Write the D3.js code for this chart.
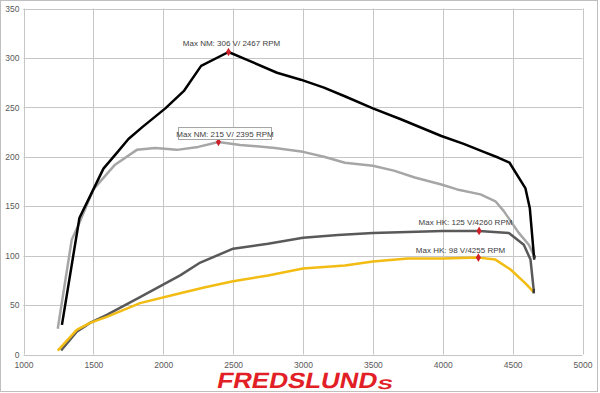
<!DOCTYPE html>
<html><head><meta charset="utf-8">
<script src="https://cdn.jsdelivr.net/npm/d3@7"></script>
<style>
html,body{margin:0;padding:0;background:#fff;}
svg{display:block;}
text{font-family:"Liberation Sans",Arial,sans-serif;}
</style></head>
<body>
<svg id="c" width="600" height="393"></svg>
<script>
// ---- data ----
const xTicks = [1000,1500,2000,2500,3000,3500,4000,4500,5000];
const yTicks = [0,50,100,150,200,250,300,350];

const nm1Rpm = [1275,1400,1500,1572,1668,1751,1850,2015,2150,2271,2467,2600,2814,2984,3150,3303,3500,3700,3990,4150,4293,4400,4478,4592,4623,4654];
const nm1Val = [30,138,167,188,204,218,230,249,267,292,306,298,285,278,270,261,249,238,221,213,205,199,194,168,148,97];

const nm2Rpm = [1245,1345,1393,1500,1655,1811,1942,2097,2250,2395,2550,2800,3000,3150,3300,3500,3650,3800,3990,4103,4270,4377,4437,4544,4616,4657];
const nm2Val = [26,116,131,167,192,207,209,207,210,215,212,209,205,200,194,191,186,179,172,167,162,155,145,123,111,99];

const hk1Rpm = [1269,1381,1476,1596,1834,2121,2265,2500,2750,3000,3250,3500,3750,4000,4260,4473,4580,4628,4651];
const hk1Val = [4,23,32,40,58,80,93,107,112,118,121,123,124,125,125,123,111,96,65];

const hk2Rpm = [1245,1381,1476,1596,1834,2121,2300,2500,2750,3000,3300,3500,3750,4000,4255,4377,4485,4592,4651];
const hk2Val = [4,25,32,38,52,62,68,74,80,87,90,94,97,97,98,96,86,72,63];

const seriesNames = ["NM2","NM1","HK1","HK2"];
const maxLabels = ["Max NM: 306 V/ 2467 RPM","Max NM: 215 V/ 2395 RPM","Max HK: 125 V/4260 RPM","Max HK: 98 V/4255 RPM"];
const maxRpm = [2467,2395,4260,4255];
const maxVal = [306,215,125,98];

// ---- chart ----
const svg = d3.select("#c");
const L=23.5, R=582.5, T=8.5, B=354.5;
const x = d3.scaleLinear().domain([1000,5000]).range([L,R]);
const y = d3.scaleLinear().domain([0,350]).range([B,T]);

// outer frame
svg.append("rect").attr("x",0.5).attr("y",0.5).attr("width",597).attr("height",391)
  .attr("fill","#fff").attr("stroke","#bfbfbf");

const grid = svg.append("g");
grid.selectAll("line.h").data(yTicks).join("line")
  .attr("x1",L).attr("x2",R).attr("y1",d=>Math.round(y(d))+0.5).attr("y2",d=>Math.round(y(d))+0.5)
  .attr("stroke","#c6c6c6").attr("stroke-width",1);
grid.selectAll("line.v").data(xTicks).join("line")
  .attr("y1",T).attr("y2",B).attr("x1",d=>Math.round(x(d))+0.5).attr("x2",d=>Math.round(x(d))+0.5)
  .attr("stroke","#c6c6c6").attr("stroke-width",1);

// axes labels via d3 axes
const xAxis = svg.append("g").attr("transform",`translate(0,${B})`)
  .call(d3.axisBottom(x).tickValues(xTicks).tickSize(0).tickPadding(7).tickFormat(d3.format("d")));
const yAxis = svg.append("g").attr("transform",`translate(${L},0)`)
  .call(d3.axisLeft(y).tickValues(yTicks).tickSize(0).tickPadding(4).tickFormat(d3.format("d")));
[xAxis,yAxis].forEach(a=>{
  a.select(".domain").remove();
  a.selectAll("text").attr("fill","#595959").style("font-size","8.5px").style("font-family","'Liberation Sans',Arial,sans-serif");
});

const line = d3.line().x(d=>x(d[0])).y(d=>y(d[1]));
const zip = (a,b)=>a.map((v,i)=>[v,b[i]]);
const series = [
  {name:seriesNames[0], pts:zip(nm2Rpm,nm2Val), color:"#a6a6a6"},
  {name:seriesNames[1], pts:zip(nm1Rpm,nm1Val), color:"#000000"},
  {name:seriesNames[2], pts:zip(hk1Rpm,hk1Val), color:"#595959"},
  {name:seriesNames[3], pts:zip(hk2Rpm,hk2Val), color:"#f2bc13"}
];
svg.append("g").selectAll("path").data(series).join("path")
  .attr("d",d=>line(d.pts)).attr("fill","none").attr("stroke",d=>d.color)
  .attr("stroke-width",2.5).attr("stroke-linejoin","round").attr("stroke-linecap","butt");

// end-point small dark markers
svg.append("g").selectAll("rect").data(series).join("rect")
  .attr("x",d=>x(d.pts[d.pts.length-1][0])-1.2).attr("y",d=>y(d.pts[d.pts.length-1][1])-1.2)
  .attr("width",2.4).attr("height",2.4).attr("fill","#333");

// max markers (diamonds)
const sym = d3.symbol().type(d3.symbolDiamond).size(22);
svg.append("g").selectAll("path").data(maxRpm).join("path")
  .attr("d",sym).attr("transform",(d,i)=>`translate(${x(d)},${y(maxVal[i])})`)
  .attr("fill","#d0202a");

// labels
const labPos = [[231.5,46.3],[225,136.5],[465.5,224.5],[460.5,253]];
const labs = svg.append("g");
labPos.forEach((p,i)=>{
  if(i===1){
    labs.append("rect").attr("x",178.5).attr("y",127.5).attr("width",93).attr("height",12)
      .attr("fill","#fff").attr("stroke","#a6a6a6").attr("stroke-width",1);
  }
  labs.append("text").attr("x",p[0]).attr("y",p[1]).attr("text-anchor","middle")
    .attr("fill","#404040").style("font-size","8px").text(maxLabels[i]);
});

// logo
const logo = svg.append("g");
logo.append("text").attr("x",216).attr("y",388)
  .attr("transform","skewX(-12) translate(82.5,0)")
  .attr("fill","#e21f26").style("font-family","'Liberation Sans',Arial,sans-serif")
  .style("font-weight","900").style("font-size","22px")
  .attr("textLength",160).attr("lengthAdjust","spacingAndGlyphs").text("FREDSLUND");
logo.append("text").attr("x",377).attr("y",389.5)
  .attr("transform","skewX(-12) translate(82.5,0)")
  .attr("fill","#e21f26").style("font-family","'Liberation Sans',Arial,sans-serif")
  .style("font-weight","900").style("font-size","14px")
  .attr("textLength",15).attr("lengthAdjust","spacingAndGlyphs").text("S");
</script>
</body></html>
